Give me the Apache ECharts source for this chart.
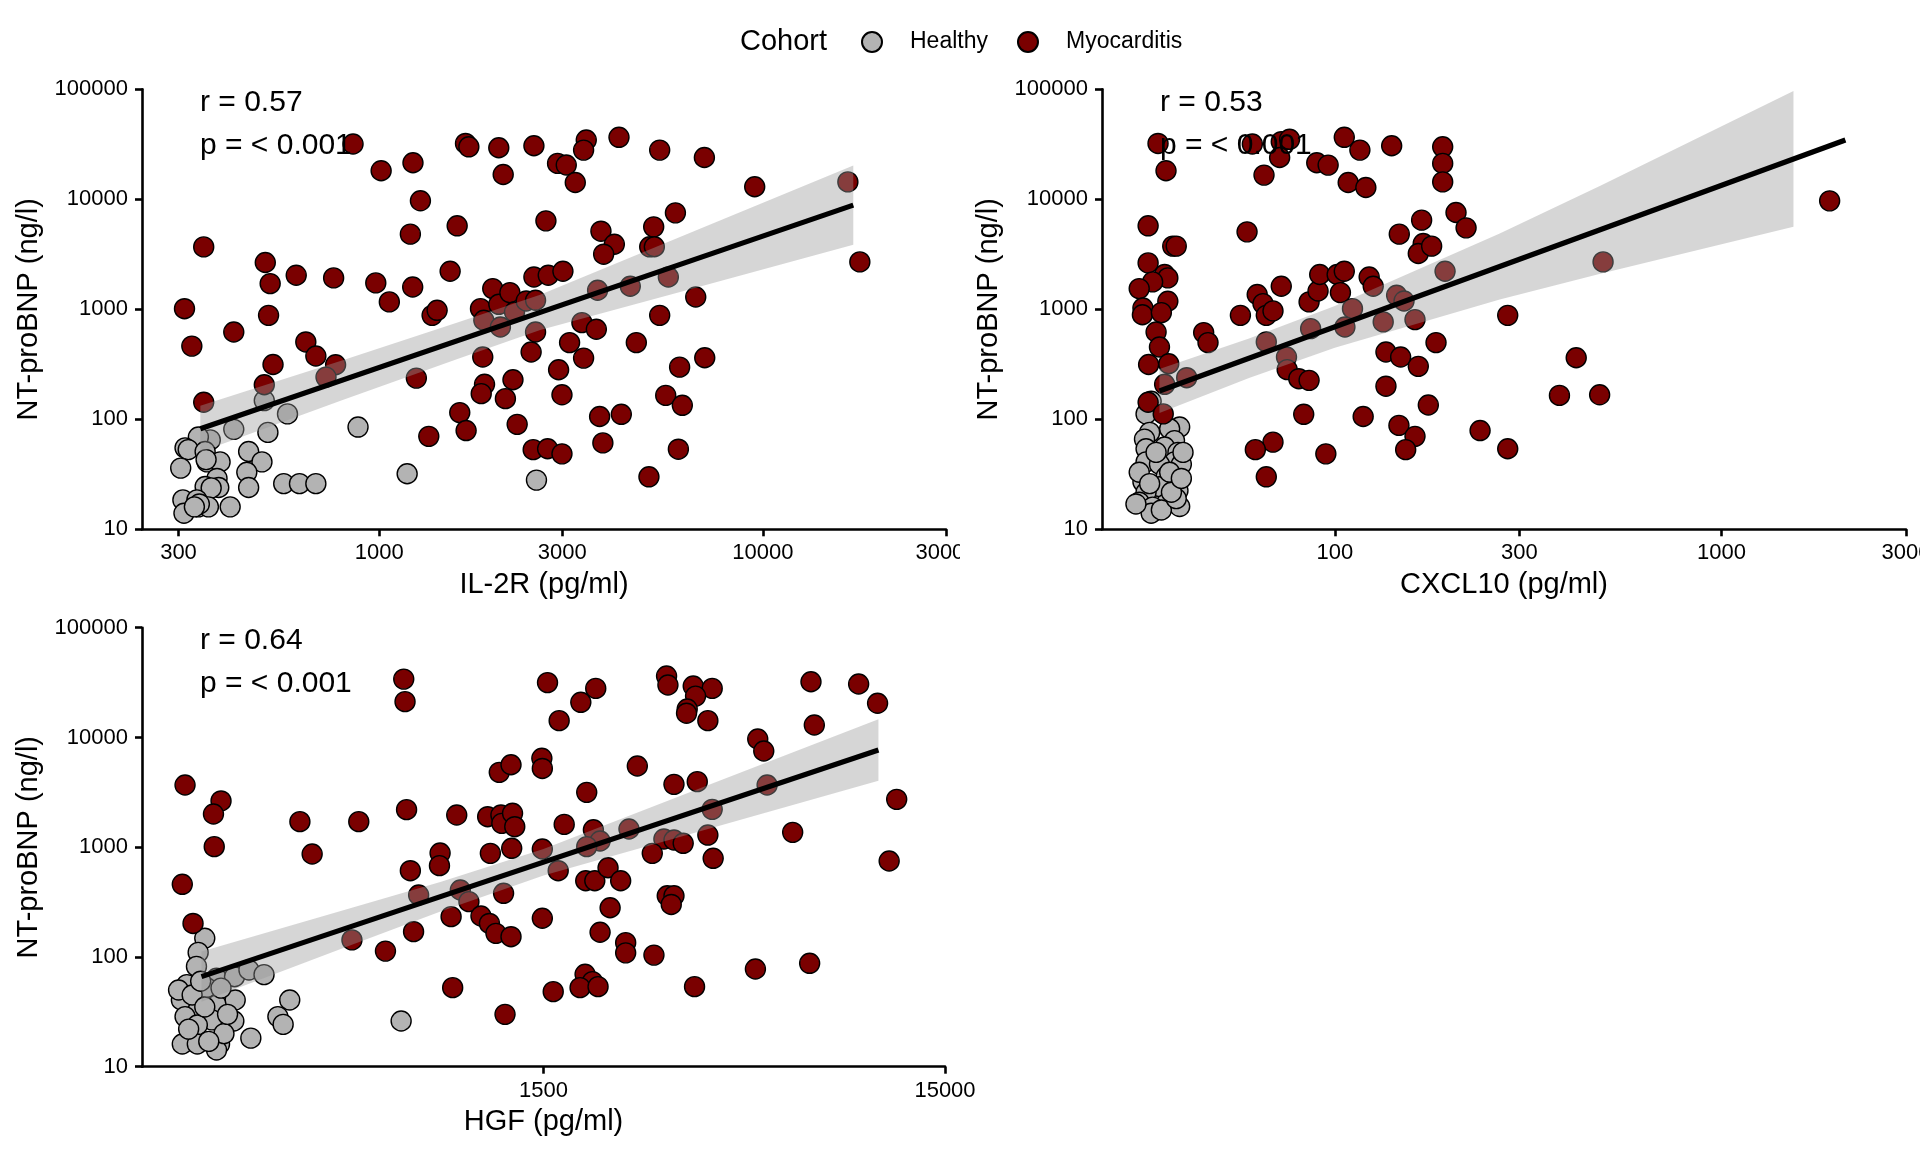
<!DOCTYPE html>
<html><head><meta charset="utf-8">
<script src="https://cdn.jsdelivr.net/npm/echarts@6/dist/echarts.min.js"></script>
<style>html,body{margin:0;padding:0;background:#fff}#c{width:1920px;height:1152px}</style>
</head><body><div id="c"></div>
<script>
// ---------- data ----------
const seriesNames = ['Healthy', 'Myocarditis'];
const yTicks = [10, 100, 1000, 10000, 100000];
const il2rTicks = [300, 1000, 3000, 10000, 30000];
const cxcl10Ticks = [100, 300, 1000, 3000];
const hgfTicks = [1500, 15000];
const xTitles = ['IL-2R (pg/ml)', 'CXCL10 (pg/ml)', 'HGF (pg/ml)'];
const yTitle = 'NT-proBNP (ng/l)';
const rTexts = ['r = 0.57', 'r = 0.53', 'r = 0.64'];
const pTexts = ['p = < 0.001', 'p = < 0.001', 'p = < 0.001'];
const xRanges = [[241, 30000], [25, 3000], [150, 15000]];

// IL-2R panel
const il2rHealthy = [[881,85],[1183,32],[2570,28],[577,112],[502,148],[513,76],[418,81],[363,65],[338,69],[312,55],[318,53],[352,51],[356,41],[385,41],[304,36],[457,51],[495,41],[452,33],[457,24],[564,26],[620,26],[684,26],[378,29],[382,24],[352,24.5],[365,23.8],[308,18.5],[335,18.5],[338,16],[359,16],[409,16],[310,14],[354,43],[340,17],[330,16]];
const il2rMyo = [[855,31800],[1012,18200],[1225,21500],[1281,9690],[1206,4820],[1597,5740],[1679,32200],[1713,30000],[2050,29400],[2105,16800],[2531,30700],[2720,6370],
[349,3694],[505,2661],[520,1713],[608,2042],[761,1929],[980,1737],[1223,1596],[1531,2218],[1063,1167],[1374,881],[1416,979],[311,1013],[325,463],[515,881],[418,622],[644,505],[684,376],[529,315],[770,313],[727,242],[502,206],[349,143],[1250,237],
[1837,1014],[1874,795],[1977,1543],[2050,1110],[2070,690],[2191,1419],[2253,946],[2416,1191],[2556,1208],[2531,1967],[2758,2040],[2556,622],[2489,409],[1862,368],[2232,229],[1882,208],[1845,171],[2133,154],[1622,115],[1685,79],[1347,70],[2289,90],[2520,53],[2748,54],[2995,48.5],
[3465,34600],[3410,28000],[4217,36600],[2917,21200],[3073,20500],[3244,14200],[5383,28000],[7039,24000],[9520,13000],[16650,14400],[17890,2698],[3784,5130],[4101,3906],[3846,3170],[5193,5620],[5070,3698],[5213,3700],[5916,7530],[3012,2220],[3709,1489],[4512,1619],[5670,1968],[6683,1294],[5383,881],[3376,756],[3681,658],[3135,498],[4679,498],[2935,282],[3410,360],[2995,167],[6067,298],[7054,363],[5582,165],[6166,134],[3754,106],[4276,111],[3828,61],[6022,53.5],[5047,30]];
const il2rFitX = [342, 17200];
const il2rFitY = [82, 8850];
const il2rBandX = [342, 800, 1600, 2628, 6683, 17200];
const il2rBandLo = [50.5, 149, 354, 649, 1571, 3864];
const il2rBandHi = [133, 342, 757, 1355, 5203, 20280];

// CXCL10 panel
const cxcl10Healthy = [[33.5,146],[32.5,112],[39.7,85],[37.4,82],[33.2,76],[32.2,66],[38.5,64],[36.3,56],[32.5,54],[39.3,50],[32.5,41],[38.5,41],[35.2,39],[40.1,39],[36.6,30],[31.9,27],[35.2,24.4],[39.3,26],[39.3,22.5],[32.5,21.7],[31.2,17.6],[36.6,17],[39.7,16.1],[33.8,15.9],[33.5,14],[35.6,15],[37.4,33],[31.2,33],[40.5,50],[30.6,17],[38.9,19],[33.2,26],[37.8,21.7],[34.5,50],[40.1,29]];
const cxcl10Myo = [[34.9,32200],[36.6,18200],[32.9,5740],[38.1,3750],[38.9,3750],[32.9,2640],[36.3,2070],[37.0,1930],[33.8,1775],[31.2,1543],[31.9,1028],[31.8,893],[37.0,1183],[35.6,933],[34.5,622],[35.2,454],[33.0,315],[37.2,320],[36.3,208],[32.9,143],[36.0,112],[41.4,239],[45.8,614],[47.0,498],[57.0,881],[59.3,5060],[61.2,31800],[65.6,16600],[63.0,1362],[65.2,1127],[66.5,881],[69.2,967],[72.7,1619],[72.7,33400],[76.4,35100],[72.0,24000],[66.5,505],[75.0,368],[75.3,283],[80.7,234],[85.8,226],[83.1,111],[69.2,62],[62.3,53],[66.5,30],[94.8,48.5],[85.8,1167],[90.5,1468],[91.4,2070],[86.6,667],[89.8,21500],[96.1,20470],[101.4,2070],[105.8,2218],[103.4,1419],[105.8,36600],[108.3,14200],[116.1,28000],[120.3,12800],[111.1,1014],[106.2,690],[122.7,1968],[125.7,1620],[140.3,30700],[133.4,768],[135.6,409],[148,368],[164.4,303],[135.6,200],[144.5,1340],[151,1191],[161.2,806],[146.8,4820],[167.7,6460],[169.3,3963],[164.4,3215],[178,3750],[190.1,30000],[190.1,21200],[190.1,14400],[205.8,7590],[218.5,5500],[192.8,2220],[182.7,498],[174.5,135],[118.4,106],[146.5,88],[161.2,70],[152.5,53],[237.5,79],[280,881],[280,54],[421,363],[381,165],[484,167],[494,2698],[1904,9680]];
const cxcl10FitX = [35.2, 2091];
const cxcl10FitY = [181, 34600];
const cxcl10BandX = [35.2, 60, 100, 267, 486, 1535];
const cxcl10BandLo = [114, 237, 447, 1228, 2106, 5620];
const cxcl10BandHi = [286, 542, 1072, 4887, 13290, 96600];

// HGF panel
const hgfHealthy = [[215,148],[207,110],[205,82],[230,64],[255,66],[277,76],[302,69],[194,56],[217,52.5],[188,40.5],[230,36.5],[256,40.5],[207,32.9],[192,28.6],[224,26.7],[206,24],[254,26.1],[350,40.5],[327,28.6],[337,24.3],[280,18.2],[663,26.1],[189,16.1],[206,16.1],[234,16.1],[230,14.2],[185,50],[200,45],[215,35],[240,20],[196,22],[220,17],[245,30],[210,60],[236,52]];
const hgfMyo = [[673,34000],[678,21200],[1535,31600],[192,3690],[236,2640],[226,2007],[227,1012],[189,459],[201,202],[371,1709],[398,867],[520,1709],[684,2198],[699,611],[829,885],[826,679],[912,1963],[1089,1897],[1175,1963],[1181,1650],[1256,2040],[1272,1538],[1106,879],[1250,977],[1164,4806],[1245,5640],[1486,6456],[1490,5220],[1490,963],[733,367],[931,407],[978,319],[883,233],[1048,236],[1100,202],[1142,164],[1245,153],[1193,380],[712,170],[500,143],[606,113],[891,52.5],[1203,30],[1490,225],[1586,48.3],
[1641,14230],[1858,20900],[2024,27990],[3038,36300],[3062,30060],[3540,29400],[3947,27990],[3588,23800],[3420,18150],[3407,16600],[3850,14230],[6955,32200],[9141,30700],[10190,20470],[7089,12980],[5125,9681],[5305,7520],[2569,5495],[3170,3740],[3623,3955],[1922,3162],[1689,1614],[1997,1440],[2449,1466],[2075,1138],[1922,1012],[2992,1189],[3170,1164],[3342,1085],[2799,879],[3850,1290],[3969,792],[3947,2213],[5408,3690],[11370,2729],[6262,1365],[10890,749],[1632,611],[1911,495],[2013,495],[2172,650],[2335,495],[2198,281],[3050,361],[3170,361],[3121,301],[2075,168],[2403,135],[2403,109],[2826,104],[5057,77.6],[6902,87.5],[1904,69.5],[1986,59.6],[1850,52.5],[2051,53.6],[3567,53.6]];
const hgfFitX = [211, 10240];
const hgfFitY = [66.2, 7685];
const hgfBandX = [211, 500, 834, 1500, 3834, 10240];
const hgfBandLo = [39, 129, 261, 553, 1455, 4032];
const hgfBandHi = [112, 281, 485, 962, 3656, 14640];

// ---------- chart ----------
const FONT = '"Liberation Sans", Arial, Helvetica, sans-serif';
const COL_H = '#b3b3b3';
const COL_M = '#7a0000';
const grids = [
  {left: 142, top: 89.3, width: 804, height: 440},
  {left: 1102, top: 89.3, width: 804, height: 440},
  {left: 142, top: 627.7, width: 803, height: 439}
];
const panels = [
  {ticks: il2rTicks, healthy: il2rHealthy, myo: il2rMyo, fitX: il2rFitX, fitY: il2rFitY, bx: il2rBandX, lo: il2rBandLo, hi: il2rBandHi},
  {ticks: cxcl10Ticks, healthy: cxcl10Healthy, myo: cxcl10Myo, fitX: cxcl10FitX, fitY: cxcl10FitY, bx: cxcl10BandX, lo: cxcl10BandLo, hi: cxcl10BandHi},
  {ticks: hgfTicks, healthy: hgfHealthy, myo: hgfMyo, fitX: hgfFitX, fitY: hgfFitY, bx: hgfBandX, lo: hgfBandLo, hi: hgfBandHi}
];
const axisLineStyle = {color: '#000', width: 2.6};
const fmt = v => String(Math.round(v));

const xAxes = [], yAxes = [], series = [], graphics = [];
panels.forEach((p, i) => {
  xAxes.push({
    type: 'log', gridIndex: i, min: xRanges[i][0], max: xRanges[i][1],
    name: xTitles[i], nameLocation: 'middle', nameGap: 41, nameMoveOverlap: false,
    nameTextStyle: {fontSize: 29, color: '#000', fontFamily: FONT},
    axisLine: {show: true, onZero: false, lineStyle: axisLineStyle},
    axisTick: {show: true, length: 7, lineStyle: axisLineStyle, customValues: p.ticks},
    axisLabel: {fontSize: 22, color: '#000', fontFamily: FONT, margin: 13, customValues: p.ticks, formatter: fmt, hideOverlap: false},
    splitLine: {show: false}, minorTick: {show: false}, minorSplitLine: {show: false}
  });
  yAxes.push({
    type: 'log', gridIndex: i, min: 10, max: 100000,
    name: yTitle, nameLocation: 'middle', nameGap: 99, nameMoveOverlap: false,
    nameTextStyle: {fontSize: 29, color: '#000', fontFamily: FONT},
    axisLine: {show: true, onZero: false, lineStyle: axisLineStyle},
    axisTick: {show: true, length: 7, lineStyle: axisLineStyle, customValues: yTicks},
    axisLabel: {fontSize: 22, color: '#000', fontFamily: FONT, margin: 14, customValues: yTicks, formatter: fmt, hideOverlap: false},
    splitLine: {show: false}, minorTick: {show: false}, minorSplitLine: {show: false}
  });
  const pointStyle = c => ({color: c, borderColor: '#000', borderWidth: 1.4, opacity: 1});
  series.push({
    name: seriesNames[0], type: 'scatter', xAxisIndex: i, yAxisIndex: i,
    data: p.healthy, symbol: 'circle', symbolSize: 20, itemStyle: pointStyle(COL_H), z: 2,
    emphasis: {disabled: true}, animation: false
  });
  series.push({
    name: seriesNames[1], type: 'scatter', xAxisIndex: i, yAxisIndex: i,
    data: p.myo, symbol: 'circle', symbolSize: 20, itemStyle: pointStyle(COL_M), z: 3,
    emphasis: {disabled: true}, animation: false
  });
  const bandRows = p.bx.map((x, j) => [x, p.lo[j], p.hi[j]]);
  series.push({
    type: 'custom', xAxisIndex: i, yAxisIndex: i, z: 4, silent: true, animation: false,
    data: bandRows, encode: {x: 0, y: [1, 2]},
    renderItem: (params, api) => {
      if (params.dataIndex !== 0) return null;
      const pts = [];
      for (let j = 0; j < bandRows.length; j++) pts.push(api.coord([bandRows[j][0], bandRows[j][2]]));
      for (let j = bandRows.length - 1; j >= 0; j--) pts.push(api.coord([bandRows[j][0], bandRows[j][1]]));
      return {type: 'polygon', shape: {points: pts}, style: {fill: 'rgba(153,153,153,0.4)'}};
    }
  });
  series.push({
    type: 'line', xAxisIndex: i, yAxisIndex: i, z: 5, silent: true, animation: false,
    data: p.fitX.map((x, j) => [x, p.fitY[j]]), symbol: 'none',
    lineStyle: {color: '#000', width: 5.2}
  });
  const g = grids[i];
  graphics.push({type: 'text', z: 50, x: g.left + 58, y: g.top + 13, style: {text: rTexts[i], font: '30px ' + FONT, fill: '#000', verticalAlign: 'middle'}});
  graphics.push({type: 'text', z: 50, x: g.left + 58, y: g.top + 56.3, style: {text: pTexts[i], font: '30px ' + FONT, fill: '#000', verticalAlign: 'middle'}});
});
// panel boundary (the right-hand panel background covers the overflowing tick label)
graphics.push({type: 'rect', z: 100, shape: {x: 960, y: 532, width: 60, height: 44}, style: {fill: '#fff'}});
graphics.push({type: 'text', z: 50, x: 740, y: 41.5, style: {text: 'Cohort', font: '29px ' + FONT, fill: '#000', verticalAlign: 'middle'}});

const chart = echarts.init(document.getElementById('c'), null, {renderer: 'canvas'});
chart.setOption({
  animation: false,
  backgroundColor: '#fff',
  grid: grids.map(g => Object.assign({containLabel: false, outerBoundsMode: 'none'}, g)),
  xAxis: xAxes, yAxis: yAxes,
  legend: {
    data: seriesNames, left: 856, top: 25.5, itemWidth: 20, itemHeight: 20, itemGap: 29,
    icon: 'circle', selectedMode: false,
    textStyle: {fontSize: 23, color: '#000', fontFamily: FONT, padding: [0, 0, 0, 23]}
  },
  graphic: graphics,
  series: series
});
</script></body></html>
